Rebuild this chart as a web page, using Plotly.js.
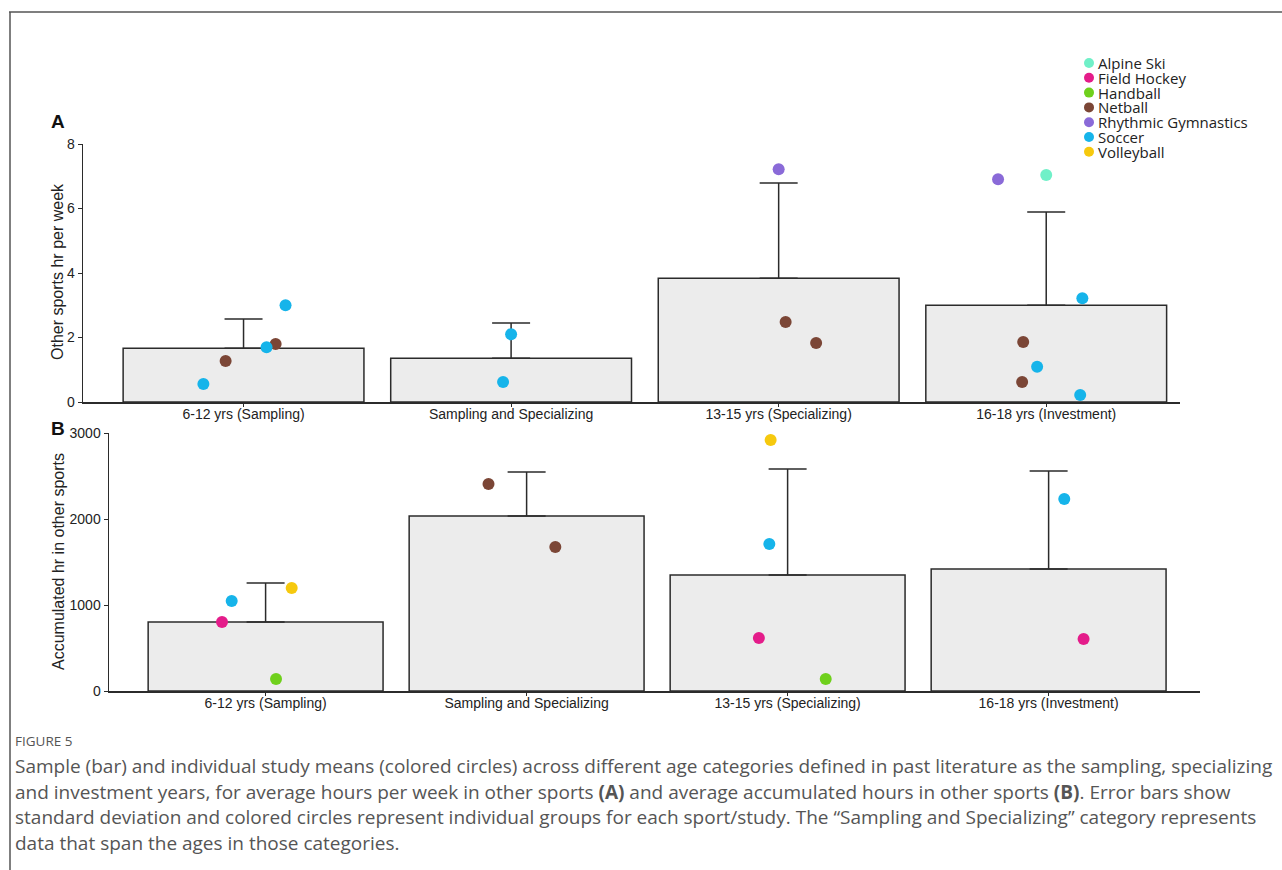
<!DOCTYPE html>
<html>
<head>
<meta charset="utf-8">
<script src="https://cdn.plot.ly/plotly-3.0.1.min.js"></script>
<style>html,body{margin:0;padding:0;background:#fff;}#chart{width:1282px;height:870px;}</style>
</head>
<body>
<div id="chart"></div>
<script>
// ---------- data ----------
const categories = ["6-12 yrs (Sampling)", "Sampling and Specializing", "13-15 yrs (Specializing)", "16-18 yrs (Investment)"];
const sports = ["Alpine Ski", "Field Hockey", "Handball", "Netball", "Rhythmic Gymnastics", "Soccer", "Volleyball"];
const sportColors = ["#70f0c8", "#e41c8a", "#6fd01c", "#7b4636", "#8a6ad8", "#16b4ea", "#f6c90e"];

// Panel A: other sports hr per week
const aMeans = [1.67, 1.36, 3.84, 3.00];
const aSD = [0.90, 1.09, 2.95, 2.89];
const aPointCat = [0, 0, 0, 0, 0, 1, 1, 2, 2, 2, 3, 3, 3, 3, 3, 3, 3];
const aPointSport = ["Soccer", "Netball", "Soccer", "Netball", "Soccer", "Soccer", "Soccer", "Rhythmic Gymnastics", "Netball", "Netball", "Rhythmic Gymnastics", "Alpine Ski", "Soccer", "Netball", "Soccer", "Netball", "Soccer"];
const aPointVal = [0.56, 1.27, 1.70, 1.80, 3.00, 2.10, 0.62, 7.22, 2.48, 1.83, 6.91, 7.04, 3.22, 1.86, 1.09, 0.62, 0.22];
const aJitter = [-0.15, -0.067, 0.086, 0.12, 0.157, 0.0, -0.03, 0.0, 0.026, 0.14, -0.18, 0.0, 0.135, -0.086, -0.034, -0.09, 0.127];

// Panel B: accumulated hr in other sports
const bMeans = [802, 2035, 1349, 1419];
const bSD = [454, 512, 1232, 1139];
const bPointCat = [0, 0, 0, 0, 1, 1, 2, 2, 2, 2, 3, 3];
const bPointSport = ["Soccer", "Field Hockey", "Volleyball", "Handball", "Netball", "Netball", "Volleyball", "Soccer", "Field Hockey", "Handball", "Soccer", "Field Hockey"];
const bPointVal = [1047, 802, 1198, 140, 2407, 1674, 2918, 1709, 616, 140, 2233, 605];
const bJitter = [-0.13, -0.167, 0.10, 0.04, -0.146, 0.11, -0.065, -0.07, -0.11, 0.146, 0.06, 0.134];

const yTitles = ["Other sports hr per week", "Accumulated hr in other sports"];
const captionTitle = "FIGURE 5";
const captionLines = [
  "Sample (bar) and individual study means (colored circles) across different age categories defined in past literature as the sampling, specializing",
  "and investment years, for average hours per week in other sports <b>(A)</b> and average accumulated hours in other sports <b>(B)</b>. Error bars show",
  "standard deviation and colored circles represent individual groups for each sport/study. The \u201cSampling and Specializing\u201d category represents",
  "data that span the ages in those categories."
];

// ---------- build ----------
const W = 1282, H = 870;
const px = v => v / W;
const py = v => 1 - v / H;
const catIdx = categories.map((c, i) => i);
const dark = "#2b2b2b";
const axFamily = "Liberation Sans, Arial, sans-serif";
const axFont = {family: axFamily, size: 14, color: "#222"};

function barTrace(means, sd, xa, ya) {
  return {
    type: "bar", x: catIdx, y: means, width: 0.9, xaxis: xa, yaxis: ya,
    marker: {color: "#ececec", line: {color: dark, width: 1.5}},
    error_y: {type: "data", symmetric: false, array: sd, arrayminus: sd.map(() => 0),
              color: dark, thickness: 1.5, width: 19},
    showlegend: false, hoverinfo: "skip"
  };
}
function pointTraces(cat, sp, val, jit, xa, ya) {
  const out = [];
  sports.forEach((s, si) => {
    const xs = [], ys = [];
    sp.forEach((v, i) => { if (v === s) { xs.push(cat[i] + jit[i]); ys.push(val[i]); } });
    if (xs.length) out.push({type: "scatter", mode: "markers", x: xs, y: ys, xaxis: xa, yaxis: ya,
      name: s, marker: {color: sportColors[si], size: 12}, showlegend: false});
  });
  return out;
}

const data = [
  barTrace(aMeans, aSD, "x", "y"),
  ...pointTraces(aPointCat, aPointSport, aPointVal, aJitter, "x", "y"),
  barTrace(bMeans, bSD, "x2", "y2"),
  ...pointTraces(bPointCat, bPointSport, bPointVal, bJitter, "x2", "y2")
];

function xAxis(domain, range, anchor) {
  return {domain: domain, range: range, anchor: anchor, tickvals: catIdx, ticktext: categories,
    showline: true, linecolor: dark, linewidth: 1.5, ticks: "outside", ticklen: 3, tickcolor: dark,
    ticklabelstandoff: -4,
    showgrid: false, zeroline: false, tickfont: axFont, fixedrange: true};
}
function yAxis(domain, range, dtick, anchor) {
  return {domain: domain, range: range, dtick: dtick, anchor: anchor,
    showline: true, linecolor: dark, linewidth: 1.5, ticks: "outside", ticklen: 4, tickcolor: dark,
    showgrid: false, zeroline: false, tickfont: axFont, fixedrange: true};
}

const annotations = [];
const shapes = [];
// y-axis titles
annotations.push({text: yTitles[0], xref: "paper", yref: "paper", x: px(57), y: py(272), textangle: -90,
  xanchor: "center", yanchor: "middle", showarrow: false, borderpad: 0, font: {family: axFamily, size: 16, color: "#222"}});
annotations.push({text: yTitles[1], xref: "paper", yref: "paper", x: px(58), y: py(562), textangle: -90,
  xanchor: "center", yanchor: "middle", showarrow: false, borderpad: 0, font: {family: axFamily, size: 16, color: "#222"}});
// panel letters
annotations.push({text: "<b>A</b>", xref: "paper", yref: "paper", x: px(58), y: py(122), xanchor: "center", yanchor: "middle",
  showarrow: false, font: {family: axFamily, size: 19, color: "#111"}});
annotations.push({text: "<b>B</b>", xref: "paper", yref: "paper", x: px(58), y: py(428), xanchor: "center", yanchor: "middle",
  showarrow: false, font: {family: axFamily, size: 19, color: "#111"}});
// legend
sports.forEach((s, i) => {
  const cy = 63 + i * 14.8;
  annotations.push({text: s, xref: "paper", yref: "paper", x: px(1097), y: py(cy), xanchor: "left", yanchor: "middle",
    showarrow: false, borderpad: 0, font: {family: "Open Sans, sans-serif", size: 15, color: "#222"}});
  shapes.push({type: "circle", xref: "paper", yref: "paper", xsizemode: "pixel", ysizemode: "pixel",
    xanchor: px(1089), yanchor: py(cy), x0: -5, x1: 5, y0: -5, y1: 5,
    fillcolor: sportColors[i], line: {width: 0}});
});
// caption
annotations.push({text: captionTitle, xref: "paper", yref: "paper", x: px(13), y: py(741), xanchor: "left", yanchor: "middle",
  showarrow: false, font: {family: "Open Sans, sans-serif", size: 13.5, color: "#555"}});
captionLines.forEach((t, i) => {
  annotations.push({text: t, xref: "paper", yref: "paper", x: px(13), y: py(766 + i * 25.5), xanchor: "left", yanchor: "middle",
    showarrow: false, align: "left", font: {family: "Open Sans, sans-serif", size: 19, color: "#555"}});
});
// frame
shapes.push({type: "line", xref: "paper", yref: "paper", x0: px(9), x1: 1, y0: py(12), y1: py(12), line: {color: "#555", width: 1.5}});
shapes.push({type: "line", xref: "paper", yref: "paper", x0: px(10), x1: px(10), y0: py(12), y1: 0, line: {color: "#555", width: 1.5}});

const layout = {
  width: W, height: H, margin: {l: 0, r: 0, t: 0, b: 0},
  paper_bgcolor: "#fff", plot_bgcolor: "rgba(0,0,0,0)",
  font: {family: axFamily, color: "#222"},
  showlegend: false, barmode: "overlay",
  xaxis: xAxis([px(83), px(1180)], [-0.6, 3.5], "y"),
  yaxis: yAxis([py(402), py(144)], [0, 8], 2, "x"),
  xaxis2: xAxis([px(109), px(1200)], [-0.6, 3.58], "y2"),
  yaxis2: yAxis([py(691), py(433)], [0, 3000], 1000, "x2"),
  annotations: annotations, shapes: shapes
};

Plotly.newPlot("chart", data, layout, {displayModeBar: false, staticPlot: true});
</script>
</body>
</html>
